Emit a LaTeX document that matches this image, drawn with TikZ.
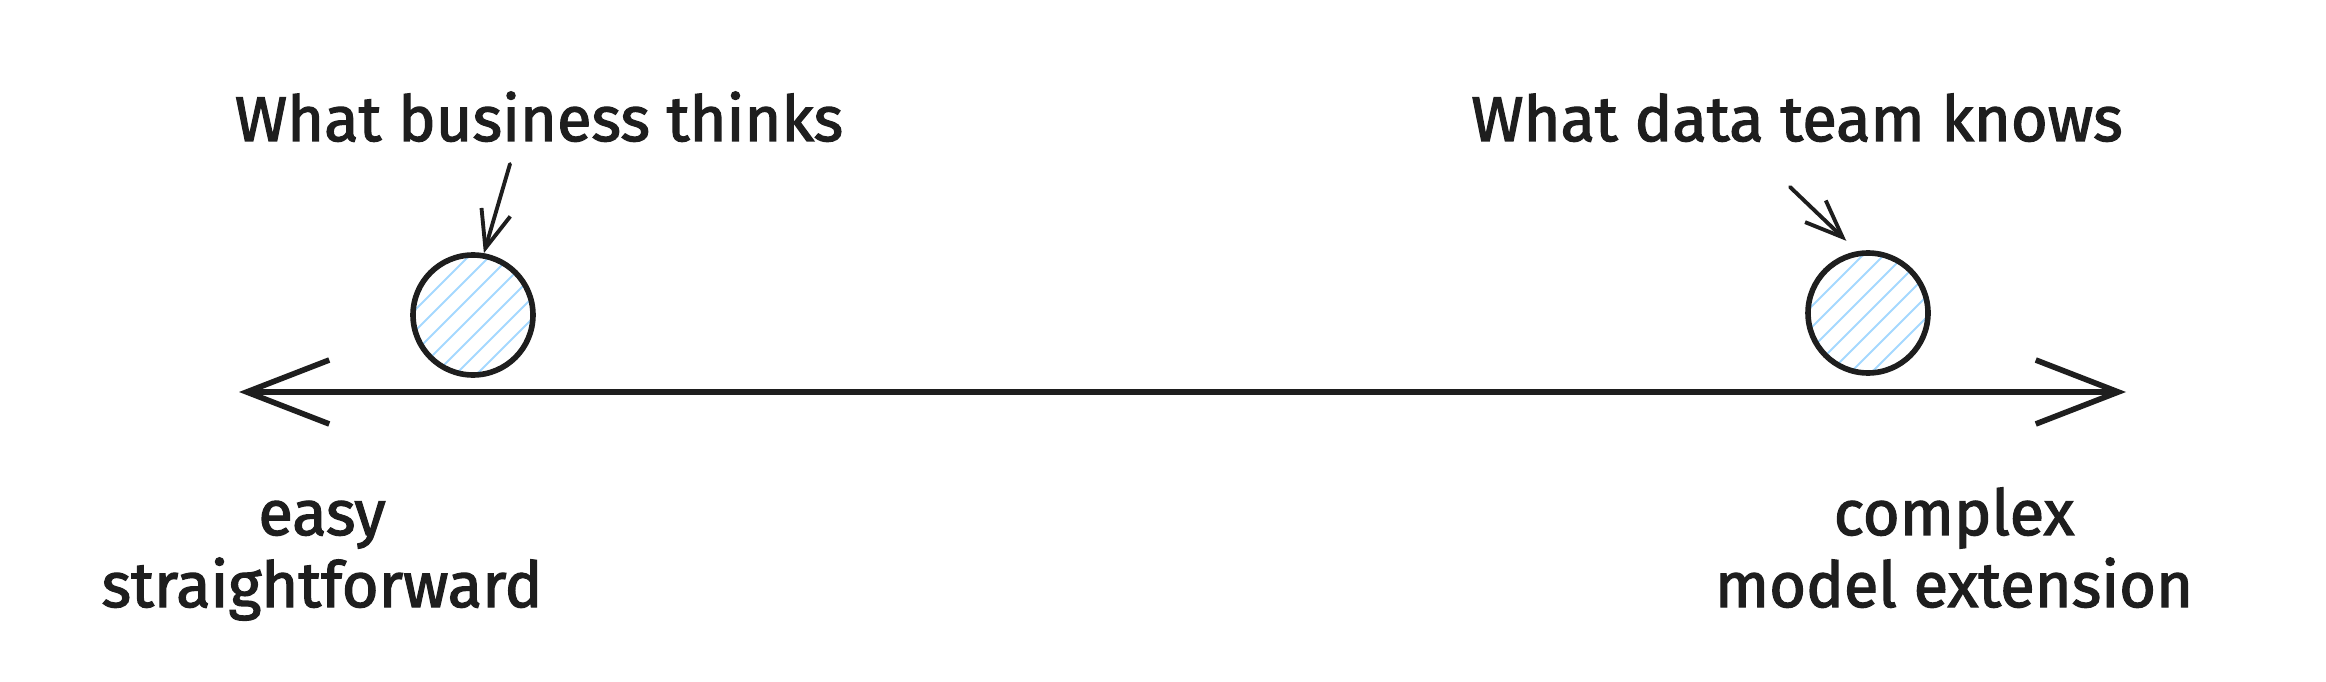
\documentclass[tikz,border=0pt]{standalone}
\usepackage{fontspec}
\setmainfont{Fira Sans}[FakeBold=2]
\usetikzlibrary{arrows.meta,calc}
\definecolor{ink}{HTML}{1E1E1E}
\definecolor{hatchblue}{HTML}{A5D8FF}
\tikzset{
  lbl/.style={font=\fontsize{36}{41}\selectfont, text=ink, inner sep=0pt, align=center},
  ball/.style={circle, draw=ink, line width=3.2pt, minimum size=2.4cm, inner sep=0pt,
    path picture={\foreach \k in {-6,...,6}{\draw[hatchblue, line width=1.1pt]
      ([xshift=\k*0.42cm]path picture bounding box.center) ++(-2cm,-2cm) -- ++(4cm,4cm);}}},
  axisline/.style={draw=ink, line width=3.2pt, line cap=round, line join=round,
    {Straight Barb[length=1.65cm,width=1.28cm]}-{Straight Barb[length=1.65cm,width=1.28cm]}},
  pointer/.style={draw=ink, line width=2.2pt, line cap=round, line join=round,
    -{Straight Barb[length=0.75cm,width=0.6cm]}}
}
\begin{document}
\begin{tikzpicture}[x=0.02cm,y=-0.02cm]
  \useasboundingbox (0,0) rectangle (2326,682);
  \coordinate (L) at (239,392);
  \coordinate (R) at (2126,392);
  \draw[axisline] (L) -- (R);
  \node[ball] (c1) at (473,315) {};
  \node[ball] (c2) at (1868,313) {};
  \node[lbl, anchor=base] (t1) at (539,141) {What business thinks};
  \node[lbl, anchor=base] (t2) at (1797,141) {What data team knows};
  \node[lbl, anchor=base] (t3) at (322,607) {easy\\straightforward};
  \node[lbl, anchor=base] (t4) at (1954,607) {complex\\model extension};
  \coordinate (p1) at (510,164);
  \coordinate (p2) at (1790,187);
  \draw[pointer] (p1) -- (c1.80);
  \draw[pointer, shorten >=0.3cm] (p2) -- (c2.100);
\end{tikzpicture}
\end{document}
